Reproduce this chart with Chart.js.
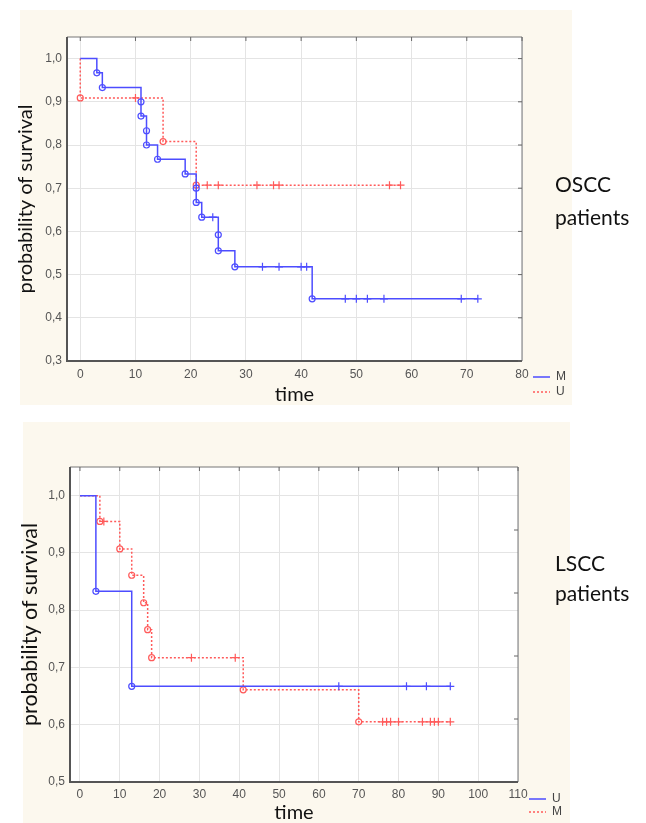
<!DOCTYPE html>
<html>
<head>
<meta charset="utf-8">
<script src="https://cdn.jsdelivr.net/npm/chart.js@4.4.1/dist/chart.umd.min.js"></script>
<style>
  body { margin: 0; background: #fff; width: 646px; height: 823px; position: relative; overflow: hidden; font-family: Lato, sans-serif; }
  .panel { position: absolute; background: #fcf8ee; }
  canvas { position: absolute; left: 0; }
  .note { position: absolute; left: 555px; font-size: 21px; color: #111; }
</style>
</head>
<body>
<div class="panel" style="left:20px;top:10px;width:552px;height:395px"></div>
<div class="panel" style="left:23px;top:422px;width:547px;height:401px"></div>
<canvas id="oscc" width="646" height="412" style="top:0"></canvas>
<canvas id="lscc" width="646" height="411" style="top:412px"></canvas>
<div class="note" style="top:167px;line-height:33px">OSCC<br>patients</div>
<div class="note" style="top:548px;line-height:30px">LSCC<br>patients</div>

<script>
const BLUE = '#4d4dff';
const RED = '#ff5a5a';

// --- OSCC panel (top) ---
const osccMTime = [0, 3, 4, 11, 11, 12, 12, 14, 19, 21, 21, 22, 25, 25, 28, 42, 72];
const osccMSurv = [1, 0.967, 0.933, 0.9, 0.867, 0.833, 0.8, 0.767, 0.733, 0.7, 0.667, 0.633, 0.592, 0.555, 0.518, 0.444, 0.444];
const osccMCensored = [24, 33, 36, 40, 41, 48, 50, 52, 55, 69, 72];
const osccUTime = [0, 0, 15, 21, 58];
const osccUSurv = [1, 0.909, 0.808, 0.707, 0.707];
const osccUCensored = [10, 23, 25, 32, 35, 36, 56, 58];
const osccXTicks = [0, 10, 20, 30, 40, 50, 60, 70, 80];
const osccYTicks = [0.3, 0.4, 0.5, 0.6, 0.7, 0.8, 0.9, 1.0];

// --- LSCC panel (bottom) ---
const lsccUTime = [0, 4, 13, 93];
const lsccUSurv = [1, 0.833, 0.667, 0.667];
const lsccUCensored = [65, 82, 87, 93];
const lsccMTime = [0, 5, 10, 13, 16, 17, 18, 41, 70, 93];
const lsccMSurv = [1, 0.955, 0.907, 0.861, 0.813, 0.766, 0.717, 0.661, 0.605, 0.605];
const lsccMCensored = [6, 28, 39, 76, 77, 78, 80, 86, 88, 89, 90, 93];
const lsccXTicks = [0, 10, 20, 30, 40, 50, 60, 70, 80, 90, 100, 110];
const lsccYTicks = [0.5, 0.6, 0.7, 0.8, 0.9, 1.0];
const lsccRightTicks = [0.61, 0.72, 0.83, 0.94];

// survival value of a step curve at time t
function stepAt(times, surv, t) {
  let s = surv[0];
  for (let i = 0; i < times.length; i++) if (times[i] <= t) s = surv[i];
  return s;
}

function curveSets(label, color, dash, times, surv, censored) {
  const line = times.map((t, i) => ({ x: t, y: surv[i] }));
  return [
    { label: label, data: line, showLine: true, stepped: true, borderColor: color,
      borderWidth: 1.5, borderDash: dash, pointRadius: 0, legendLine: true },
    { label: label + ' complete', data: line.slice(1, -1), showLine: false, pointStyle: 'circle',
      pointRadius: 3, borderColor: color, backgroundColor: 'rgba(0,0,0,0)', borderWidth: 1.2 },
    { label: label + ' censored', data: censored.map(t => ({ x: t, y: stepAt(times, surv, t) })),
      showLine: false, pointStyle: 'cross', pointRadius: 4, borderColor: color, borderWidth: 1.2 }
  ];
}

const framePlugin = {
  id: 'frame',
  beforeDraw(chart) {
    const { ctx, chartArea: a } = chart;
    ctx.save();
    ctx.fillStyle = '#fff';
    ctx.fillRect(a.left, a.top, a.right - a.left, a.bottom - a.top);
    ctx.restore();
  },
  afterDraw(chart, args, opts) {
    const { ctx, chartArea: a, scales } = chart;
    ctx.save();
    // box
    ctx.strokeStyle = '#777';
    ctx.lineWidth = 1;
    ctx.beginPath();
    ctx.moveTo(a.left, a.top); ctx.lineTo(a.right, a.top); ctx.lineTo(a.right, a.bottom);
    ctx.stroke();
    ctx.strokeStyle = '#555';
    ctx.lineWidth = 2;
    ctx.beginPath();
    ctx.moveTo(a.left, a.top); ctx.lineTo(a.left, a.bottom); ctx.lineTo(a.right, a.bottom);
    ctx.stroke();
    // small ticks on top and right edges
    ctx.strokeStyle = '#666';
    ctx.lineWidth = 1;
    ctx.beginPath();
    scales.x.ticks.forEach(t => {
      const px = scales.x.getPixelForValue(t.value);
      ctx.moveTo(px, a.top); ctx.lineTo(px, a.top + 4);
    });
    const rt = opts.rightTicks || scales.y.ticks.map(t => t.value);
    rt.forEach(v => {
      const py = scales.y.getPixelForValue(v);
      ctx.moveTo(a.right, py); ctx.lineTo(a.right - 4, py);
    });
    ctx.stroke();
    // legend
    ctx.font = '12px "Liberation Sans", Arial, sans-serif';
    ctx.textBaseline = 'middle';
    chart.data.datasets.filter(d => d.legendLine).forEach((d, i) => {
      const y = a.bottom + opts.legendTop + i * opts.legendGap;
      ctx.strokeStyle = d.borderColor;
      ctx.lineWidth = 1.5;
      ctx.setLineDash(d.borderDash || []);
      ctx.beginPath();
      ctx.moveTo(a.right + 11, y); ctx.lineTo(a.right + 28, y);
      ctx.stroke();
      ctx.setLineDash([]);
      ctx.fillStyle = '#444';
      ctx.fillText(d.label, a.right + 34, y);
    });
    ctx.restore();
  }
};

function makeChart(id, datasets, xMin, xMax, xTicks, yMin, yMax, yTicks, box, frameOpts) {
  const tickFont = { family: '"Liberation Sans", Arial, sans-serif', size: 12 };
  return new Chart(document.getElementById(id), {
    type: 'scatter',
    data: { datasets: datasets },
    plugins: [framePlugin],
    options: {
      responsive: false,
      animation: false,
      events: [],
      layout: { padding: { top: box.padTop, right: box.padRight, left: 0, bottom: 0 } },
      plugins: { legend: { display: false }, tooltip: { enabled: false }, frame: frameOpts },
      scales: {
        x: {
          type: 'linear', min: xMin, max: xMax,
          afterBuildTicks: s => { s.ticks = xTicks.map(v => ({ value: v })); },
          afterFit: s => { s.height = box.xHeight; },
          grid: { color: '#e4e4e4', drawTicks: false },
          border: { display: false },
          ticks: { padding: box.xTickPad, color: '#555', font: tickFont, callback: v => String(v) },
          title: { display: true, text: 'time', color: '#111',
                   font: { family: 'Lato', size: 20, lineHeight: 1 },
                   padding: { top: 0, bottom: box.xTitlePad } }
        },
        y: {
          type: 'linear', min: yMin, max: yMax,
          afterBuildTicks: s => { s.ticks = yTicks.map(v => ({ value: v })); },
          afterFit: s => { s.width = box.yWidth; },
          grid: { color: '#e4e4e4', drawTicks: false },
          border: { display: false },
          ticks: { padding: 5, color: '#555', font: tickFont,
                   callback: v => v.toFixed(1).replace('.', ',') },
          title: { display: true, text: 'probability of survival', color: '#111',
                   font: { family: 'Lato', size: box.yTitleSize, lineHeight: 1 },
                   padding: { top: box.yTitlePad, bottom: 0 } }
        }
      }
    }
  });
}

makeChart('oscc',
  [...curveSets('M', BLUE, [], osccMTime, osccMSurv, osccMCensored),
   ...curveSets('U', RED, [2, 2], osccUTime, osccUSurv, osccUCensored)],
  -2.4, 80, osccXTicks, 0.3, 1.05, osccYTicks,
  { padTop: 37, padRight: 124, xHeight: 51, yWidth: 67, xTickPad: 6, xTitlePad: 7, yTitleSize: 20, yTitlePad: 16 },
  { legendTop: 16, legendGap: 15 });

makeChart('lscc',
  [...curveSets('U', BLUE, [], lsccUTime, lsccUSurv, lsccUCensored),
   ...curveSets('M', RED, [2, 2], lsccMTime, lsccMSurv, lsccMCensored)],
  -2.5, 110, lsccXTicks, 0.5, 1.05, lsccYTicks,
  { padTop: 55, padRight: 128, xHeight: 41, yWidth: 70, xTickPad: 5, xTitlePad: 0, yTitleSize: 21.5, yTitlePad: 19 },
  { legendTop: 17, legendGap: 13, rightTicks: lsccRightTicks });
</script>
</body>
</html>
